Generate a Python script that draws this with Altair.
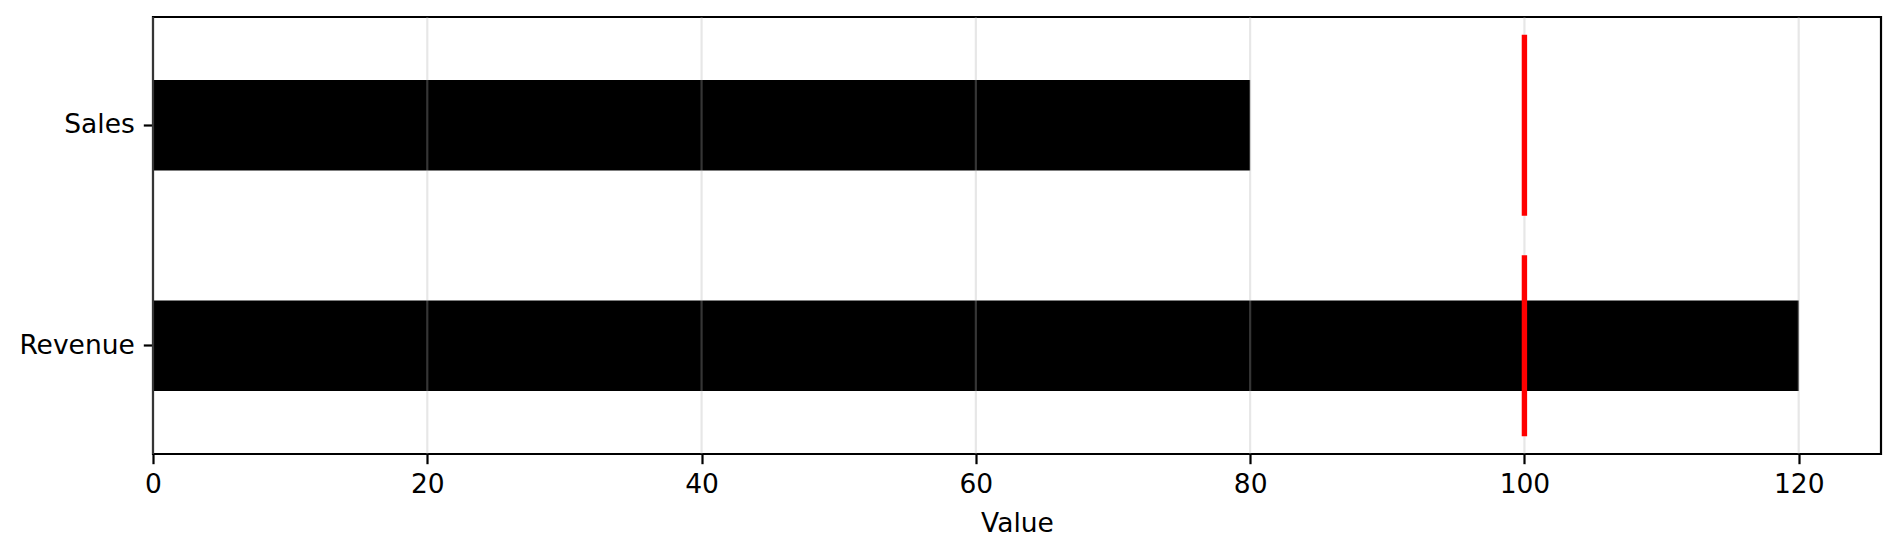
import altair as alt
import pandas as pd

categories = ["Sales", "Revenue"]
values = [80, 120]
targets = [100, 100]
x_ticks = [0, 20, 40, 60, 80, 100, 120]

df = pd.DataFrame({"category": categories, "value": values, "target": targets})
grid_df = pd.DataFrame({"tick": x_ticks})

F = "DejaVu Sans"
FS = 26.5

x_scale = alt.Scale(domain=[0, 126], nice=False, zero=True)
y_scale = alt.Scale(domain=categories, paddingInner=0.59, paddingOuter=0.285)

x_axis = alt.Axis(
    values=x_ticks, grid=False, domain=False, ticks=True, tickSize=9.7, tickWidth=2.2,
    tickColor="black", labelFont=F, labelFontSize=FS, labelColor="black", labelPadding=8,
    titleFont=F, titleFontSize=FS, titleFontWeight="normal", titleColor="black",
    titlePadding=12, labelFlush=False,
)
y_axis = alt.Axis(
    grid=False, domain=False, ticks=True, tickSize=9.7, tickWidth=2.2, tickColor="black",
    labelFont=F, labelFontSize=FS, labelColor="black", labelPadding=9, title=None,
)

bars = alt.Chart(df).mark_bar(color="black").encode(
    x=alt.X("value:Q", scale=x_scale, axis=x_axis, title="Value"),
    y=alt.Y("category:N", sort=categories, scale=y_scale, axis=y_axis),
)

grid = alt.Chart(grid_df).mark_rule(color="#b0b0b0", opacity=0.3, strokeWidth=2.2).encode(
    x=alt.X("tick:Q", scale=x_scale),
)

tgt = alt.Chart(df).mark_tick(color="#ff0000", thickness=5.4, size=181, opacity=1).encode(
    x=alt.X("target:Q", scale=x_scale),
    y=alt.Y("category:N", sort=categories, scale=y_scale),
)

chart = alt.layer(bars, grid, tgt).properties(
    width=1728, height=437,
    autosize=alt.AutoSizeParams(type="none"),
    padding={"left": 145, "top": 9, "right": 11, "bottom": 90},
).configure_view(stroke="black", strokeWidth=2.2)

chart.save("out.html", embed_options={"renderer": "svg", "actions": False})
